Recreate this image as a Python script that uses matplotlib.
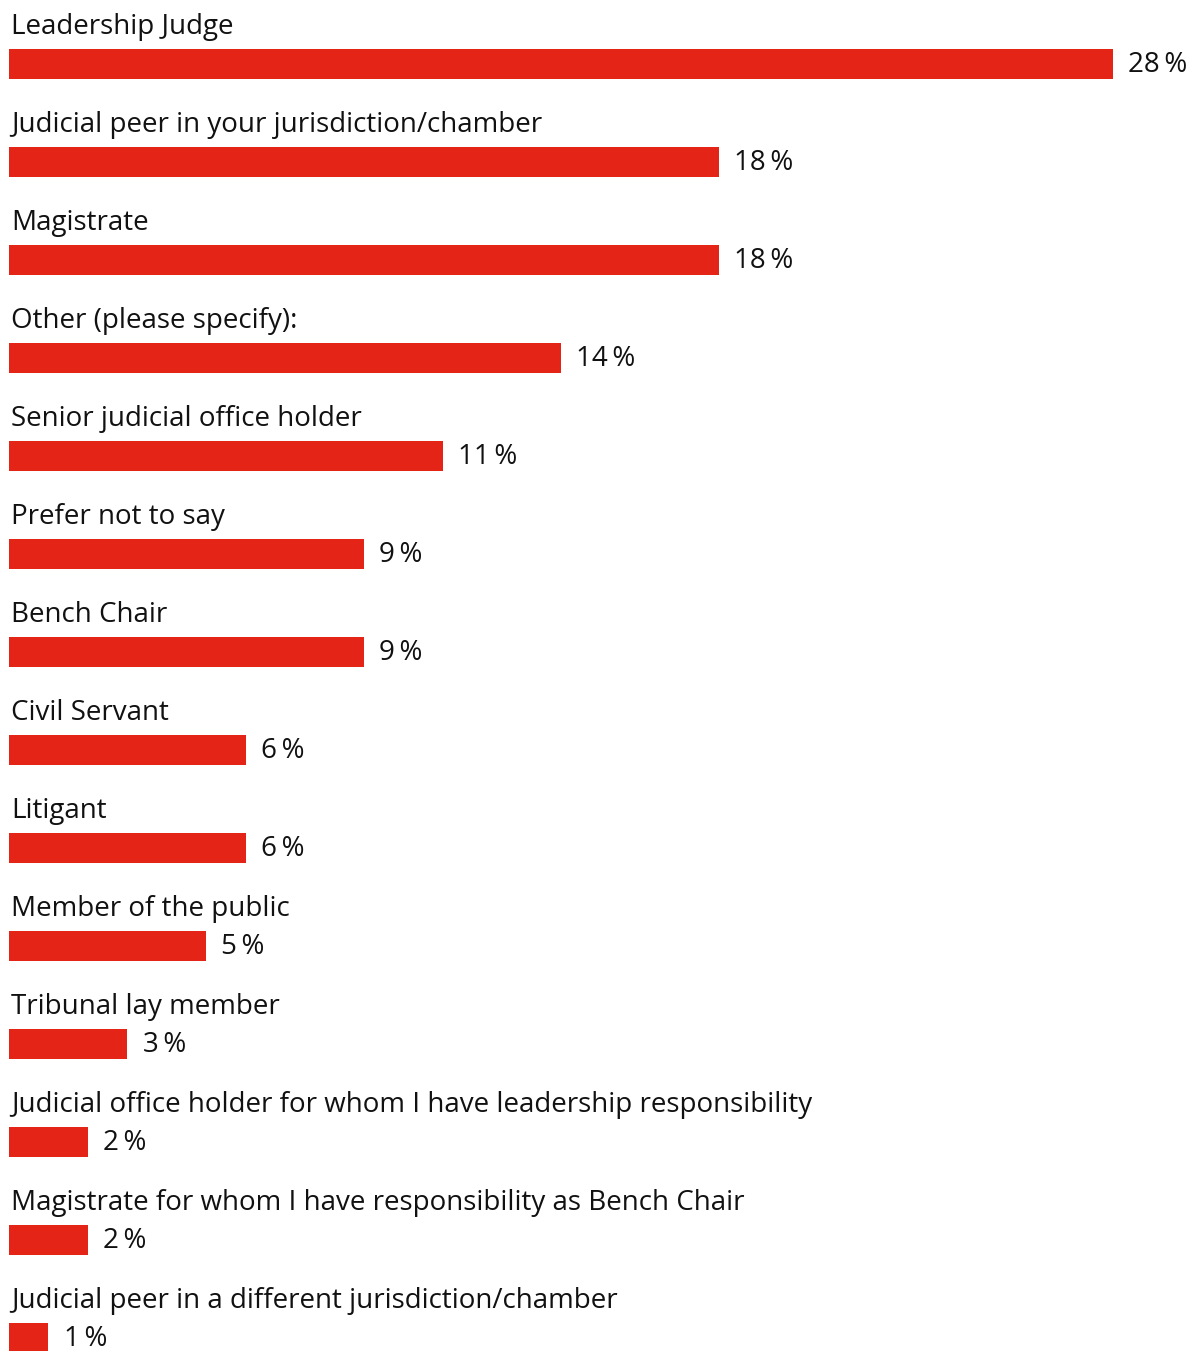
import matplotlib
matplotlib.use("Agg")
import matplotlib.pyplot as plt

categories = [
    "Leadership Judge",
    "Judicial peer in your jurisdiction/chamber",
    "Magistrate",
    "Other (please specify):",
    "Senior judicial office holder",
    "Prefer not to say",
    "Bench Chair",
    "Civil Servant",
    "Litigant",
    "Member of the public",
    "Tribunal lay member",
    "Judicial office holder for whom I have leadership responsibility",
    "Magistrate for whom I have responsibility as Bench Chair",
    "Judicial peer in a different jurisdiction/chamber",
]
values = [28, 18, 18, 14, 11, 9, 9, 6, 6, 5, 3, 2, 2, 1]

BAR_COLOR = "#E32416"
FONT = ["Open Sans", "DejaVu Sans"]

W, H = 1195, 1351
fig = plt.figure(figsize=(W / 100, H / 100), dpi=100)
left_px = 9
ax = fig.add_axes([left_px / W, 0, 1 - left_px / W, 1])

px_per_pct = (1113 - left_px) / 28.0
row_px = 98.0
first_center = 64.0
ax.set_xlim(0, (W - left_px) / px_per_pct)
ax.set_ylim((H - first_center) / row_px, -first_center / row_px)
ax.axis("off")

ypos = list(range(len(categories)))
ax.barh(ypos, values, height=30 / row_px, color=BAR_COLOR, align="center")

for y, cat, v in zip(ypos, categories, values):
    ax.text(0.05, y - 30 / row_px, cat, fontsize=20, family=FONT,
            color="#111111", va="baseline", ha="left")
    ax.annotate(f"{v}\u2009%", xy=(v, y + 0.01), xytext=(11, 0),
                textcoords="offset points", fontsize=20, family=FONT,
                color="#111111", va="center", ha="left")

fig.savefig("out.png", dpi=100)
